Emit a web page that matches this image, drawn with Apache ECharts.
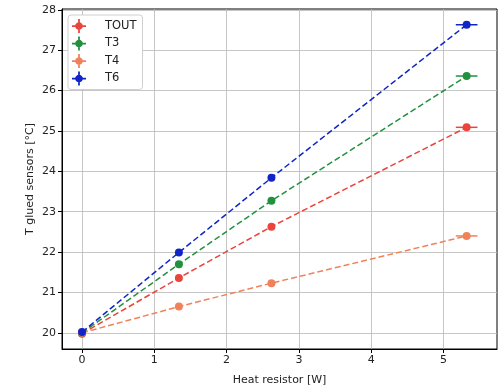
<!DOCTYPE html>
<html>
<head>
<meta charset="utf-8">
<script src="https://cdn.jsdelivr.net/npm/echarts@6/dist/echarts.min.js"></script>
<style>
  html, body { margin: 0; padding: 0; background: #fff; }
  #chart { width: 502px; height: 391px; }
</style>
</head>
<body>
<div id="chart"></div>
<script>
// heat resistor power [W]
const xPower = [0, 1.34, 2.62, 5.32];
// glued sensor temperatures [°C]
const tout = [19.98, 21.36, 22.63, 25.09];
const t3 = [20.0, 21.70, 23.27, 26.36];
const t4 = [20.0, 20.65, 21.23, 22.40];
const t6 = [20.02, 21.99, 23.84, 27.63];
// uncertainties
const xErr = [0.02, 0.03, 0.04, 0.15];
const yErr = [0.03, 0.03, 0.03, 0.03];

const xTicks = [0, 1, 2, 3, 4, 5];
const yTicks = [20, 21, 22, 23, 24, 25, 26, 27, 28];

const seriesDefs = [
  { name: 'TOUT', data: tout, color: '#e8453c' },
  { name: 'T3', data: t3, color: '#21913f' },
  { name: 'T4', data: t4, color: '#f0825a' },
  { name: 'T6', data: t6, color: '#1024c8' },
];

const font = 'DejaVu Sans';
// marker with error bar arms, no overlapping subpaths
const legendIcon = 'path://M0,7 L4,7 L4,9 L0,9 Z M12,7 L16,7 L16,9 L12,9 Z M7,0 L9,0 L9,4 L7,4 Z M7,12 L9,12 L9,16 L7,16 Z '
  + 'M8,3.6 C10.4,3.6 12.4,5.6 12.4,8 C12.4,10.4 10.4,12.4 8,12.4 C5.6,12.4 3.6,10.4 3.6,8 C3.6,5.6 5.6,3.6 8,3.6 Z';

const chart = echarts.init(document.getElementById('chart'));

const errorRender = (color) => (params, api) => {
  const x = api.value(0);
  const y = api.value(1);
  const ex = api.value(2);
  const ey = api.value(3);
  const l = api.coord([x - ex, y]);
  const r = api.coord([x + ex, y]);
  const b = api.coord([x, y - ey]);
  const t = api.coord([x, y + ey]);
  return {
    type: 'group',
    children: [
      { type: 'line', shape: { x1: l[0], y1: l[1], x2: r[0], y2: r[1] }, style: { stroke: color, lineWidth: 1.5 } },
      { type: 'line', shape: { x1: b[0], y1: b[1], x2: t[0], y2: t[1] }, style: { stroke: color, lineWidth: 1.5 } },
    ],
  };
};

const series = [];
seriesDefs.forEach((s) => {
  series.push({
    name: s.name,
    type: 'custom',
    renderItem: errorRender(s.color),
    data: xPower.map((x, i) => [x, s.data[i], xErr[i], yErr[i]]),
    itemStyle: { color: s.color },
    silent: true,
    z: 3,
  });
  series.push({
    name: s.name,
    type: 'line',
    data: xPower.map((x, i) => [x, s.data[i]]),
    symbol: 'circle',
    symbolSize: 8,
    itemStyle: { color: s.color },
    lineStyle: { color: s.color, width: 1.5, type: [6, 3] },
    z: 3,
  });
});

chart.setOption({
  animation: false,
  backgroundColor: '#fff',
  grid: {
    left: 62, right: 5, top: 9, bottom: 38,
    show: true, borderColor: '#000', borderWidth: 1,
  },
  legend: {
    orient: 'vertical',
    left: 68,
    top: 15,
    padding: [4, 6, 4, 4],
    itemWidth: 14,
    itemHeight: 14,
    itemGap: 3.5,
    backgroundColor: '#fff',
    borderColor: '#d0d0d0',
    borderWidth: 1,
    borderRadius: 3,
    textStyle: { fontFamily: font, fontSize: 11.5, color: '#222', padding: [0, 0, 0, 14] },
    data: seriesDefs.map((s) => ({
      name: s.name,
      icon: legendIcon,
      itemStyle: { color: s.color, borderWidth: 0 },
    })),
  },
  xAxis: {
    type: 'value',
    min: -0.277,
    max: 5.74,
    name: 'Heat resistor [W]',
    nameLocation: 'middle',
    nameGap: 26,
    nameMoveOverlap: false,
    nameTextStyle: { fontFamily: font, fontSize: 11, color: '#222' },
    axisLine: { show: true, onZero: false, lineStyle: { color: '#000' } },
    axisTick: { show: true, length: 4, lineStyle: { color: '#000' }, customValues: xTicks },
    axisLabel: { fontFamily: font, fontSize: 11, color: '#222', margin: 6, customValues: xTicks },
    splitLine: { show: true, lineStyle: { color: '#b8b8b8', width: 0.8 } },
  },
  yAxis: {
    type: 'value',
    min: 19.6,
    max: 28.02,
    name: 'T glued sensors [°C]',
    nameLocation: 'middle',
    nameGap: 26,
    nameMoveOverlap: false,
    nameTextStyle: { fontFamily: font, fontSize: 11, color: '#222' },
    axisLine: { show: true, onZero: false, lineStyle: { color: '#000' } },
    axisTick: { show: true, length: 4, lineStyle: { color: '#000' }, customValues: yTicks },
    axisLabel: { fontFamily: font, fontSize: 11, color: '#222', margin: 6, customValues: yTicks },
    splitLine: { show: true, lineStyle: { color: '#b8b8b8', width: 0.8 } },
  },
  series: series,
});
</script>
</body>
</html>
